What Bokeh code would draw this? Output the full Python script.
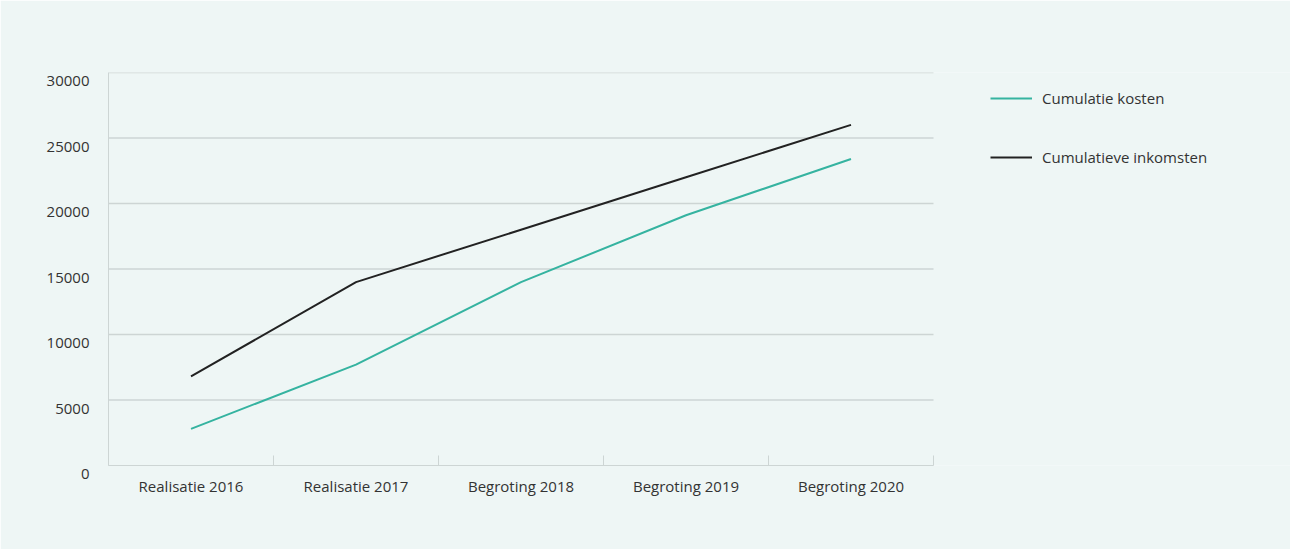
from bokeh.plotting import figure
from bokeh.models import FixedTicker, Legend, LegendItem, Range1d, ColumnDataSource
from bokeh.embed import file_html
from bokeh.resources import INLINE

categories = ["Realisatie 2016", "Realisatie 2017", "Begroting 2018", "Begroting 2019", "Begroting 2020"]
kosten = [2800, 7700, 14000, 19100, 23400]
inkomsten = [6800, 14000, 18000, 22000, 26000]
y_ticks = [0, 5000, 10000, 15000, 20000, 25000, 30000]

FONT = "Open Sans"
BG = "#eef6f5"
TXT = "#333333"
GRID = "#cdd5d4"

n = len(categories)
xs = [i + 0.5 for i in range(n)]
src = ColumnDataSource(dict(x=xs, kosten=kosten, inkomsten=inkomsten))

# frame extends to the right edge so the legend can sit inside it;
# data area spans 825px of the 1182px-wide frame
x_end = n * 1182 / 825

p = figure(width=1290, height=549, output_backend="svg", toolbar_location=None,
           x_range=Range1d(0, x_end), y_range=Range1d(0, 30000),
           min_border_left=108, min_border_right=0, min_border_top=72, min_border_bottom=84)
p.background_fill_color = BG
p.border_fill_color = BG
p.outline_line_color = None

# horizontal grid lines limited to the category area
grid_src = ColumnDataSource(dict(y=[t for t in y_ticks if t > 0]))
p.segment(x0=0, x1=n, y0="y", y1="y", source=grid_src, line_color=GRID, line_width=1.5)

r1 = p.line("x", "kosten", source=src, line_color="#35b3a0", line_width=2)
r2 = p.line("x", "inkomsten", source=src, line_color="#222222", line_width=2)

# x axis
p.xaxis.bounds = (0, n)
p.xaxis.ticker = FixedTicker(ticks=xs, minor_ticks=list(range(n + 1)))
p.xaxis.major_label_overrides = {x: c for x, c in zip(xs, categories)}
p.xaxis.major_tick_line_color = None
p.xaxis.minor_tick_in = 10
p.xaxis.minor_tick_out = 0
p.xaxis.minor_tick_line_color = GRID
p.xaxis.axis_line_color = GRID
p.xaxis.major_label_standoff = 4
p.xaxis.major_label_text_font = FONT
p.xaxis.major_label_text_font_size = "15px"
p.xaxis.major_label_text_color = TXT
p.xgrid.grid_line_color = None
p.ygrid.grid_line_color = None

# y axis
p.yaxis.ticker = FixedTicker(ticks=y_ticks)
p.yaxis.major_label_overrides = {v: "\n" + str(v) for v in y_ticks}
p.yaxis.major_label_text_line_height = 0.75
p.yaxis.major_tick_line_color = None
p.yaxis.minor_tick_line_color = None
p.yaxis.axis_line_color = GRID
p.yaxis.major_label_standoff = 13
p.yaxis.major_label_text_font = FONT
p.yaxis.major_label_text_font_size = "15px"
p.yaxis.major_label_text_color = TXT

legend = Legend(items=[LegendItem(label="Cumulatie kosten", renderers=[r1]),
                       LegendItem(label="Cumulatieve inkomsten", renderers=[r2])],
                location=(882, 298))
legend.background_fill_alpha = 0
legend.border_line_color = None
legend.padding = 0
legend.margin = 0
legend.glyph_width = 42
legend.glyph_height = 20
legend.label_standoff = 10
legend.spacing = 39
legend.label_text_font = FONT
legend.label_text_font_size = "15px"
legend.label_text_color = TXT
p.add_layout(legend, "center")

open("out.html", "w").write(file_html(p, INLINE))
